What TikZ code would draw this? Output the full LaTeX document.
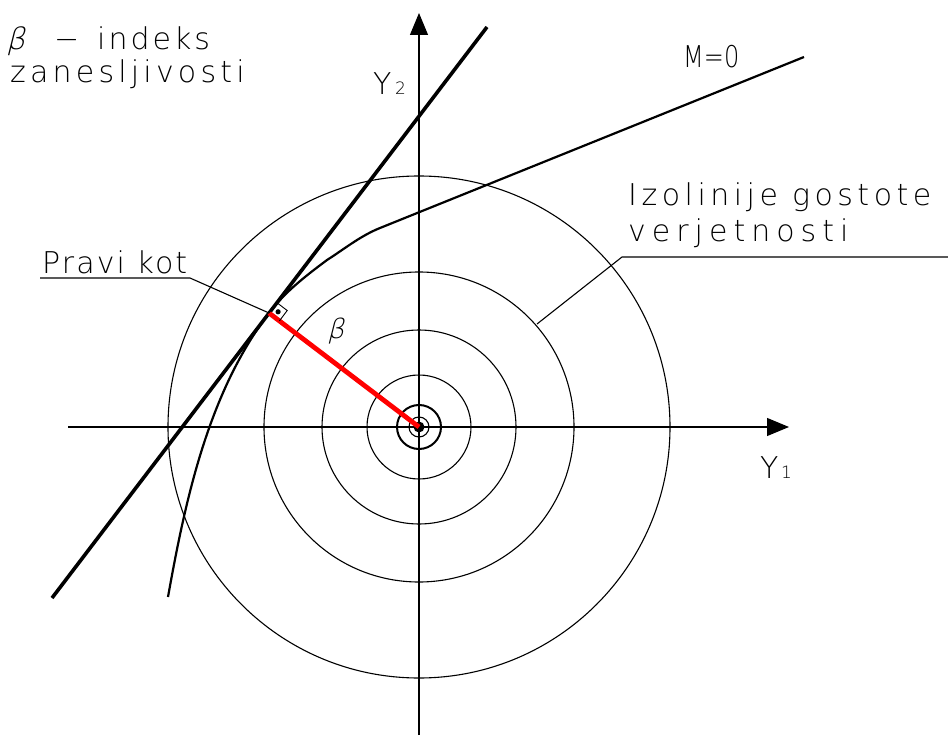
\documentclass[tikz,border=0pt]{standalone}
\usepackage{fontspec}
\setmainfont{DejaVu Sans}[UprightFont={* ExtraLight},ItalicFont={* ExtraLight},ItalicFeatures={FakeSlant=0.25}]
\usetikzlibrary{arrows.meta}
\newcommand{\cadls}[2]{{\addfontfeature{LetterSpace=#1}#2}}
\begin{document}
\begin{tikzpicture}[x=1pt,y=-1pt,
  axisline/.style={line width=1.2pt,-{Triangle[length=22pt,width=18pt]}},
  isoline/.style={line width=1.1pt},
  thinline/.style={line width=1.1pt},
  tangentline/.style={line width=3.6pt},
  limitcurve/.style={line width=2.2pt},
  betaline/.style={line width=4.8pt,red},
  cadtext/.style={anchor=base west,inner sep=0pt,font=\fontsize{30}{36}\selectfont},
  subtext/.style={anchor=base west,inner sep=0pt,font=\fontsize{17}{20}\selectfont}]
\fill[white] (0,0) rectangle (948,738);
\useasboundingbox (0,0) rectangle (948,738);
% key points
\coordinate (O) at (419,427);
\coordinate (F) at (269,313);
\coordinate (xl) at (68,427);
\coordinate (xr) at (789,427);
\coordinate (yb) at (419,735);
\coordinate (yt) at (419,13);
\coordinate (tb) at (52,598);
\coordinate (tt) at (487,27);
% circles
\draw[isoline] (O) circle[radius=251pt];
\draw[isoline] (O) circle[radius=155pt];
\draw[isoline] (O) circle[radius=97pt];
\draw[isoline] (O) circle[radius=52pt];
\draw[line width=2pt] (O) circle[radius=22pt];
\draw[isoline] (O) circle[radius=10pt];
\fill (O) circle[radius=5.5pt];
% axes
\draw[axisline] (xl) -- (xr);
\draw[axisline] (yb) -- (yt);
% tangent line
\draw[tangentline] (tb) -- (tt);
% limit state curve M=0
\coordinate (c0) at (168,597);
\coordinate (c1) at (327,260);
\coordinate (c2) at (380,228);
\coordinate (c3) at (804,57);
\draw[limitcurve] (c0) .. controls (185.6,498.6) and (208.5,392.6) .. (F)
  .. controls (285.3,291.5) and (306.2,275.6) .. (c1)
  .. controls (343,250) and (360,236) .. (c2) -- (c3);
% beta line
\draw[betaline] (F) -- (O);
% right angle mark
\draw[line width=0.9pt] (F) -- (276.9,302.7) -- (287.2,310.5) -- (279.4,320.9);
\fill (278.1,311.8) circle[radius=2.6pt];
% leaders
\coordinate (pk1) at (40,278);
\coordinate (pk2) at (190,278);
\draw[thinline] (pk1) -- (pk2) -- (F);
\coordinate (iz0) at (537,324);
\coordinate (iz1) at (622,257);
\coordinate (iz2) at (948,257);
\draw[thinline] (iz0) -- (iz1) -- (iz2);
% texts
\node[cadtext] (b1) at (6,50) {\itshape β};
\node[cadtext] (b2) at (54,50) {−};
\node[cadtext] (b3) at (97,50) {\cadls{10}{indeks}};
\node[cadtext] (b4) at (10,83) {\cadls{14}{zanesljivosti}};
\node[cadtext] (y2) at (373,95) {Y};
\node[subtext] (y2s) at (395,95) {2};
\node[cadtext] (y1) at (760,478) {Y};
\node[subtext] (y1s) at (781,478) {1};
\node[cadtext] (m0) at (683,68) {\scalebox{0.8}[1]{M=0}};
\node[cadtext] (iz) at (628,206) {\cadls{15}{Izolinije gostote}};
\node[cadtext] (vj) at (628,242) {\cadls{20}{verjetnosti}};
\node[cadtext] (pk) at (42,273) {\cadls{7}{Pravi kot}};
\node[cadtext,font=\fontsize{27}{32}\selectfont] (bl) at (327,338) {\itshape β};
\end{tikzpicture}
\end{document}
